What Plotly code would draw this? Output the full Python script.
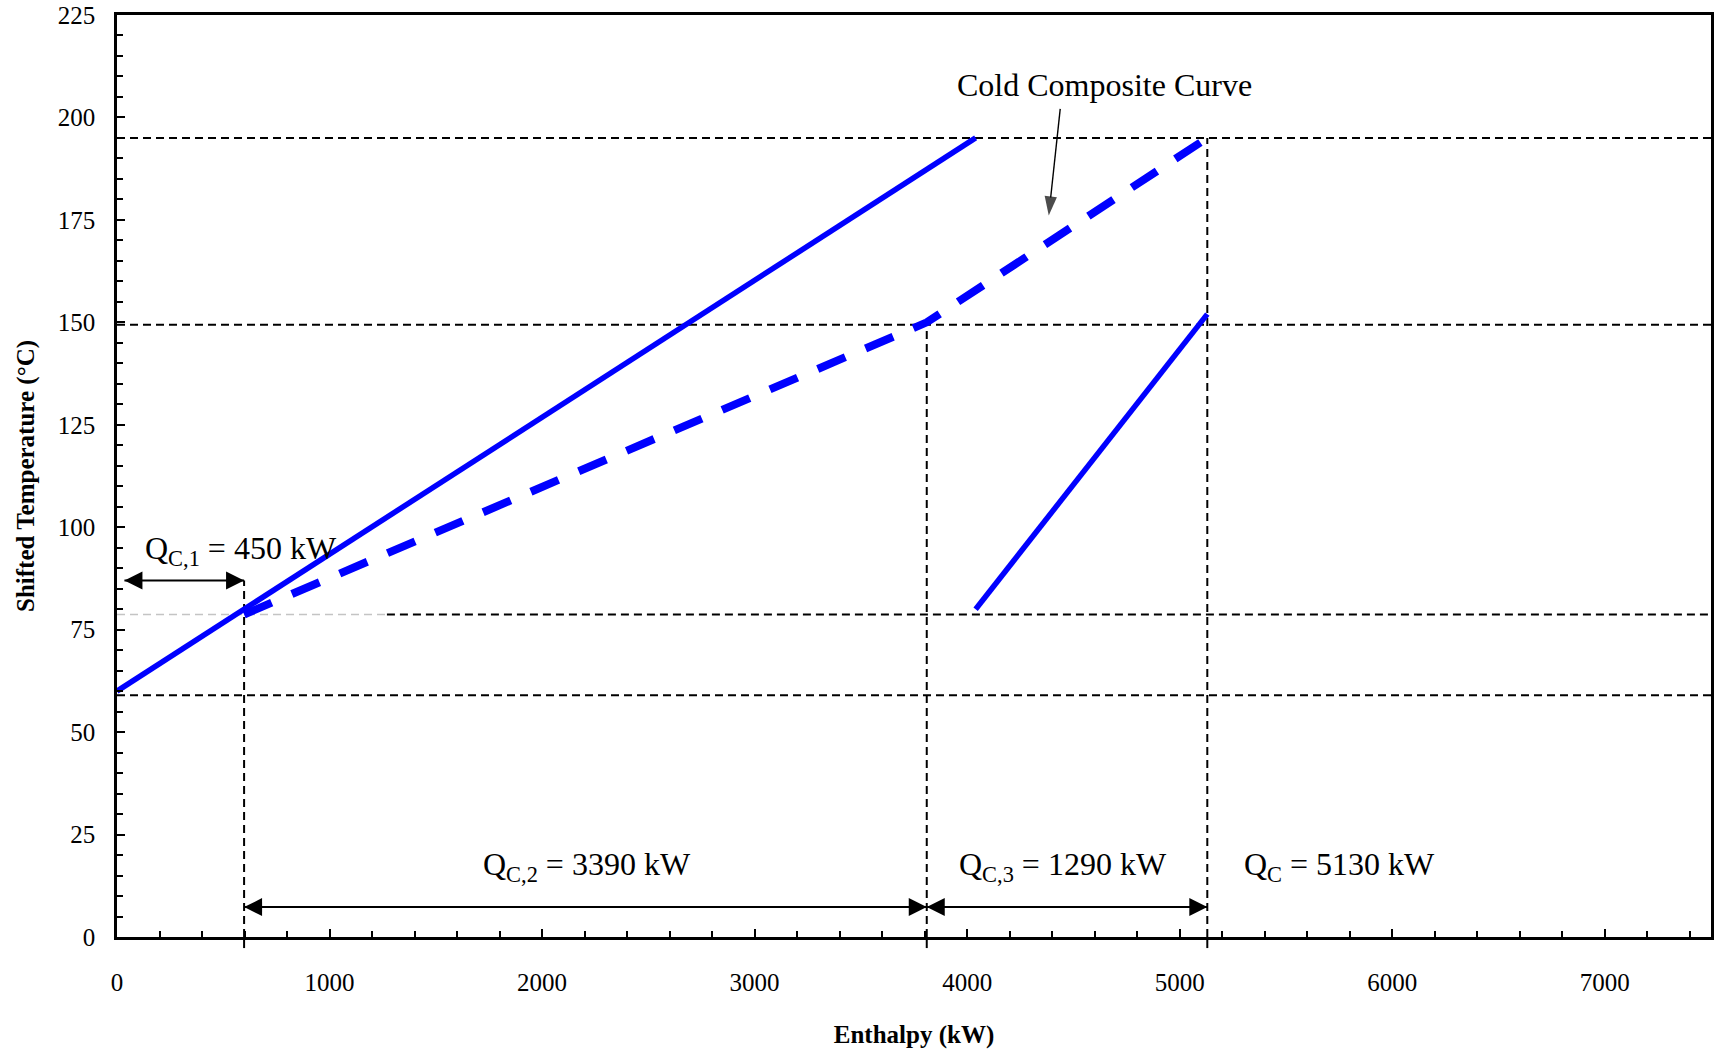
import plotly.graph_objects as go

# Composite curves: enthalpy (kW) vs shifted temperature (°C)
hot_upper_h = [0, 4040]
hot_upper_t = [60, 195]
hot_lower_h = [4040, 5130]
hot_lower_t = [80, 152]
cold_h = [598, 3810, 5130]
cold_t = [78.7, 150, 195]

# Horizontal guide levels (°C); the 78.7 level starts grey near the axis
level_t = [59, 78.7, 149.4, 195]
grey_level_t = 78.7
grey_level_end_h = 1270

# Vertical guide lines: enthalpy position and the temperature they rise to
boundary_h = [598, 3810, 5130]
boundary_top_t = [87, 150, 195]

# Cooling duties
duty_names = ["C,1", "C,2", "C,3"]
duty_kw = [450, 3390, 1290]
total_duty_kw = 5130

# Where each duty arrow runs (enthalpy span and height)
duty_arrow_h = [(35, 598), (598, 3810), (3810, 5130)]
duty_arrow_t = [87, 7.3, 7.3]
duty_label_h = [584, 2210, 4450]
duty_label_t = [94.4, 17.1, 17.1]
total_label_h = 5750
total_label_t = 17.1

# Callout for the cold composite curve
callout_text = "Cold Composite Curve"
callout_text_pos = (4648, 208)
callout_tail = (4438, 202.1)
callout_head = (4384, 176.1)

X_RANGE = [0, 7500]
Y_RANGE = [0, 225]

SERIF = "Liberation Serif, Times New Roman, serif"
BLUE = "#0000ff"

fig = go.Figure()

fig.add_trace(go.Scatter(x=hot_upper_h, y=hot_upper_t, mode="lines",
                         line=dict(color=BLUE, width=5.5), showlegend=False,
                         hoverinfo="skip"))
fig.add_trace(go.Scatter(x=hot_lower_h, y=hot_lower_t, mode="lines",
                         line=dict(color=BLUE, width=5.5), showlegend=False,
                         hoverinfo="skip"))
fig.add_trace(go.Scatter(x=cold_h, y=cold_t, mode="lines",
                         line=dict(color=BLUE, width=8, dash="30px,22px"),
                         showlegend=False, hoverinfo="skip"))

# Double-headed duty arrows: a line with arrow markers whose tips sit on the ends
for (h0, h1), t in zip(duty_arrow_h, duty_arrow_t):
    fig.add_trace(go.Scatter(
        x=[h0, h1], y=[t, t], mode="lines+markers",
        line=dict(color="black", width=2),
        marker=dict(symbol=["arrow-left", "arrow-right"], size=18,
                    color="black", line=dict(width=0)),
        showlegend=False, hoverinfo="skip"))

# Callout arrow pointing at the cold composite curve
fig.add_trace(go.Scatter(
    x=[callout_tail[0], callout_head[0]], y=[callout_tail[1], callout_head[1]],
    mode="lines+markers", line=dict(color="black", width=1.4),
    marker=dict(symbol=["circle", "arrow"], size=[0, 20], angleref="previous",
                color="black", line=dict(width=0)),
    showlegend=False, hoverinfo="skip"))

guide = dict(color="black", width=2, dash="8px,5px")
shapes = []
for t in level_t:
    if t == grey_level_t:
        shapes.append(dict(type="line", xref="x", yref="y", layer="below",
                           x0=X_RANGE[0], x1=grey_level_end_h, y0=t, y1=t,
                           line=dict(color="#c4c4c4", width=1.5, dash="8px,5px")))
        shapes.append(dict(type="line", xref="x", yref="y", layer="below",
                           x0=grey_level_end_h, x1=X_RANGE[1], y0=t, y1=t,
                           line=guide))
    else:
        shapes.append(dict(type="line", xref="x", yref="y", layer="below",
                           x0=X_RANGE[0], x1=X_RANGE[1], y0=t, y1=t,
                           line=guide))
for h, top in zip(boundary_h, boundary_top_t):
    shapes.append(dict(type="line", xref="x", yref="y", layer="below",
                       x0=h, x1=h, y0=Y_RANGE[0], y1=top, line=guide))
    # short stub below the axis line
    shapes.append(dict(type="line", xref="x", yref="paper", layer="above",
                       x0=h, x1=h, y0=-0.012, y1=0,
                       line=dict(color="black", width=2)))

annotations = []
label_font = dict(family=SERIF, size=32, color="black")
for name, val, h, t in zip(duty_names, duty_kw, duty_label_h, duty_label_t):
    annotations.append(dict(
        x=h, y=t, xref="x", yref="y", showarrow=False,
        text=f"Q<sub>{name}</sub> = {val} kW", font=label_font,
        xanchor="center", yanchor="middle"))
annotations.append(dict(
    x=total_label_h, y=total_label_t, xref="x", yref="y", showarrow=False,
    text=f"Q<sub>C</sub> = {total_duty_kw} kW", font=label_font,
    xanchor="center", yanchor="middle"))
annotations.append(dict(
    x=callout_text_pos[0], y=callout_text_pos[1], xref="x", yref="y",
    showarrow=False, text=callout_text, font=label_font,
    xanchor="center", yanchor="middle"))

axis_common = dict(
    showgrid=False, zeroline=False, showline=True, linecolor="black",
    linewidth=2.5, mirror=True, ticks="inside", tickcolor="black",
    tickwidth=2, ticklen=8, automargin=False,
    tickfont=dict(family=SERIF, size=25, color="black"),
)

fig.update_layout(
    width=1720, height=1053,
    margin=dict(l=117, r=9, t=15, b=116),
    paper_bgcolor="white", plot_bgcolor="white",
    shapes=shapes, annotations=annotations,
    xaxis=dict(
        range=X_RANGE, tick0=0, dtick=1000,
        minor=dict(dtick=200, ticks="inside", ticklen=6, tickwidth=2,
                   tickcolor="black"),
        ticklabelstandoff=21,
        title=dict(text="Enthalpy (kW)", standoff=31,
                   font=dict(family=SERIF, size=25, color="black",
                             weight="bold")),
        **axis_common),
    yaxis=dict(
        range=Y_RANGE, tick0=0, dtick=25,
        minor=dict(dtick=5, ticks="inside", ticklen=6, tickwidth=2,
                   tickcolor="black"),
        ticklabelstandoff=14,
        title=dict(text="Shifted Temperature (°C)", standoff=17,
                   font=dict(family=SERIF, size=25, color="black",
                             weight="bold")),
        **axis_common),
)

fig.write_html("out.html")
